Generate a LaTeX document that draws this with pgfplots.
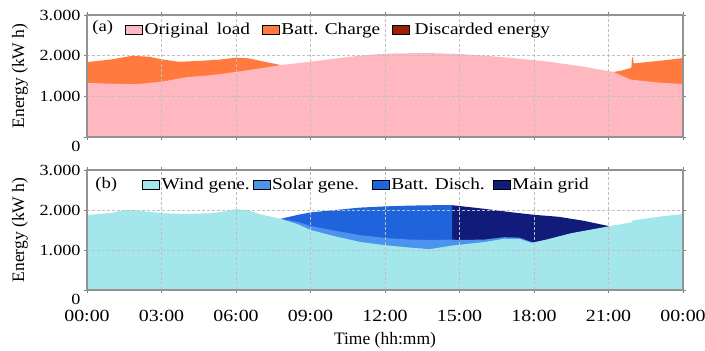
\documentclass[border=0pt]{standalone}
\usepackage{fontspec}
\setmainfont{Liberation Serif}
\newfontfamily\widefont{Liberation Serif}[FakeStretch=1.17]
\usepackage{pgfplots}
\pgfplotsset{compat=1.18}

\definecolor{pinkload}{HTML}{FFB7C0}
\definecolor{orangech}{HTML}{FF7A3C}
\definecolor{discard}{HTML}{9E2000}
\definecolor{windc}{HTML}{A3E7EC}
\definecolor{solarc}{HTML}{4B93EC}
\definecolor{battc}{HTML}{1F63DD}
\definecolor{gridc}{HTML}{111C7A}

\pgfplotsset{
  myaxis/.style={
    scale only axis, width=596pt,
    xmin=0, xmax=24, ymin=0, ymax=3000,
    xtick={0,3,...,24}, ytick={0,1000,2000,3000},
    yticklabels={\smash{\raisebox{-15pt}{0}},1.000,2.000,3.000},
    grid=major, major grid style={densely dashed, gray!50, line width=0.6pt},
    axis line style={gray!85, line width=1.4pt},
    tick style={gray, line width=0.8pt},
    tick align=outside, major tick length=3pt,
    axis on top,
    ylabel={Energy (kW h)},
    every axis y label/.style={at={(axis description cs:-0.1124,0.5)},rotate=90,anchor=center,
      font=\fontsize{17.5}{20}\selectfont},
    yticklabel style={font=\widefont\fontsize{15.5}{18}\selectfont},
    xticklabel style={font=\widefont\fontsize{17}{20}\selectfont, yshift=-14pt},
    legend image code/.code={\fill[#1] (0pt,-4.5pt) rectangle (17pt,4.5pt);},
    legend style={draw=none, fill=none, inner sep=0pt, legend columns=-1,
      font=\widefont\fontsize{16.5}{19}\selectfont,
      /tikz/every odd column/.append style={column sep=0pt}},
  }
}

\begin{document}
\begin{tikzpicture}[x=1pt,y=1pt]
\useasboundingbox (0,0) rectangle (705,351);

% ---------------- (a) ----------------
\begin{axis}[myaxis, at={(87pt,214pt)}, anchor=south west, height=122pt,
  xticklabels={},
  legend style={at={(axis description cs:0.0638,0.877)}, anchor=west,
    /tikz/every even column/.append style={column sep=10pt}}]
\addlegendimage{fill=pinkload}
\addlegendentry{Original\hspace{3pt} load}
\addlegendimage{fill=orangech}
\addlegendentry{Batt. Charge}
\addlegendimage{fill=discard}
\addlegendentry{\hspace{3pt}Discarded energy}
% battery charge (total load incl. charging)
\addplot[fill=orangech, draw=none, forget plot] coordinates {
(0,1840)(1,1910)(1.8,1995)(2.5,1975)(3,1910)(3.7,1850)(4.5,1870)(5.3,1900)(6,1950)(6.5,1935)(7,1870)(7.8,1770)
} \closedcycle;
\addplot[fill=orangech, draw=none, forget plot] coordinates {
(21.2,1600)(21.5,1630)(21.92,1700)(21.95,1960)(21.98,1960)(22.02,1810)(23,1870)(24,1940)
} \closedcycle;
% original load
\addplot[fill=pinkload, draw=none, forget plot] coordinates {
(0,1330)(1,1310)(2,1300)(3,1360)(4,1470)(5,1520)(6,1600)(7,1690)(7.8,1770)(9,1850)(10,1930)(11,2000)(12,2050)(13,2060)(14,2060)(15,2040)(16,2000)(16.6,1970)(17.5,1920)(18.6,1850)(19.3,1790)(20,1730)(20.6,1660)(21.2,1600)(21.9,1410)(23,1340)(24,1300)
} \closedcycle;
\node[anchor=west, font=\widefont\fontsize{16}{19}\selectfont] at (axis description cs:0.003,0.90) {(a)};
\end{axis}

% ---------------- (b) ----------------
\begin{axis}[myaxis, at={(87pt,61pt)}, anchor=south west, height=120pt,
  xticklabels={00:00,03:00,06:00,09:00,12:00,15:00,18:00,21:00,00:00},
  xlabel={Time (hh:mm)},
  every axis x label/.style={at={(axis description cs:0.5,-0.4167)},anchor=center,
    font=\fontsize{17.5}{20}\selectfont},
  legend style={at={(axis description cs:0.0923,0.875)}, anchor=west,
    /tikz/every even column/.append style={column sep=1pt}}]
\addlegendimage{fill=windc}
\addlegendentry{Wind gene.}
\addlegendimage{fill=solarc}
\addlegendentry{Solar gene.\kern10pt}
\addlegendimage{fill=battc}
\addlegendentry{Batt. Disch.\kern5pt}
\addlegendimage{fill=gridc}
\addlegendentry{Main grid}
% main grid (cumulative top)
\addplot[fill=gridc, draw=none, forget plot] coordinates {
(14.7,2120)(15,2100)(16,2030)(17,1950)(18,1880)(19,1830)(20,1730)(21,1600)
} \closedcycle;
% battery discharge (cumulative top)
\addplot[fill=battc, draw=none, forget plot] coordinates {
(7.8,1780)(8.5,1880)(9,1940)(10,2000)(11,2060)(12,2090)(13,2110)(14,2120)(14.7,2120)
} \closedcycle;
% solar (cumulative top)
\addplot[fill=solarc, draw=none, forget plot] coordinates {
(7.8,1780)(8.5,1700)(9,1600)(10,1480)(11,1370)(12,1300)(13,1260)(14,1250)(14.7,1260)(15,1250)(16,1260)(16.8,1320)(17.4,1310)(17.9,1200)(18,1190)
} \closedcycle;
% wind
\addplot[fill=windc, draw=none, forget plot] coordinates {
(0,1870)(1,1930)(1.5,2000)(2,1990)(3,1920)(4,1900)(5,1920)(5.5,1960)(6,2020)(6.5,1990)(7,1890)(7.8,1780)(8.5,1640)(9,1500)(10,1340)(11,1200)(12,1120)(13,1060)(13.8,1020)(14.7,1110)(15,1130)(16,1200)(16.8,1280)(17.4,1280)(17.9,1180)(18.5,1260)(19.5,1420)(21,1590)(21.9,1690)(22,1740)(23,1830)(24,1900)
} \closedcycle;
\node[anchor=west, font=\widefont\fontsize{16}{19}\selectfont] at (axis description cs:0.008,0.875) {(b)};
\end{axis}
\end{tikzpicture}
\end{document}
